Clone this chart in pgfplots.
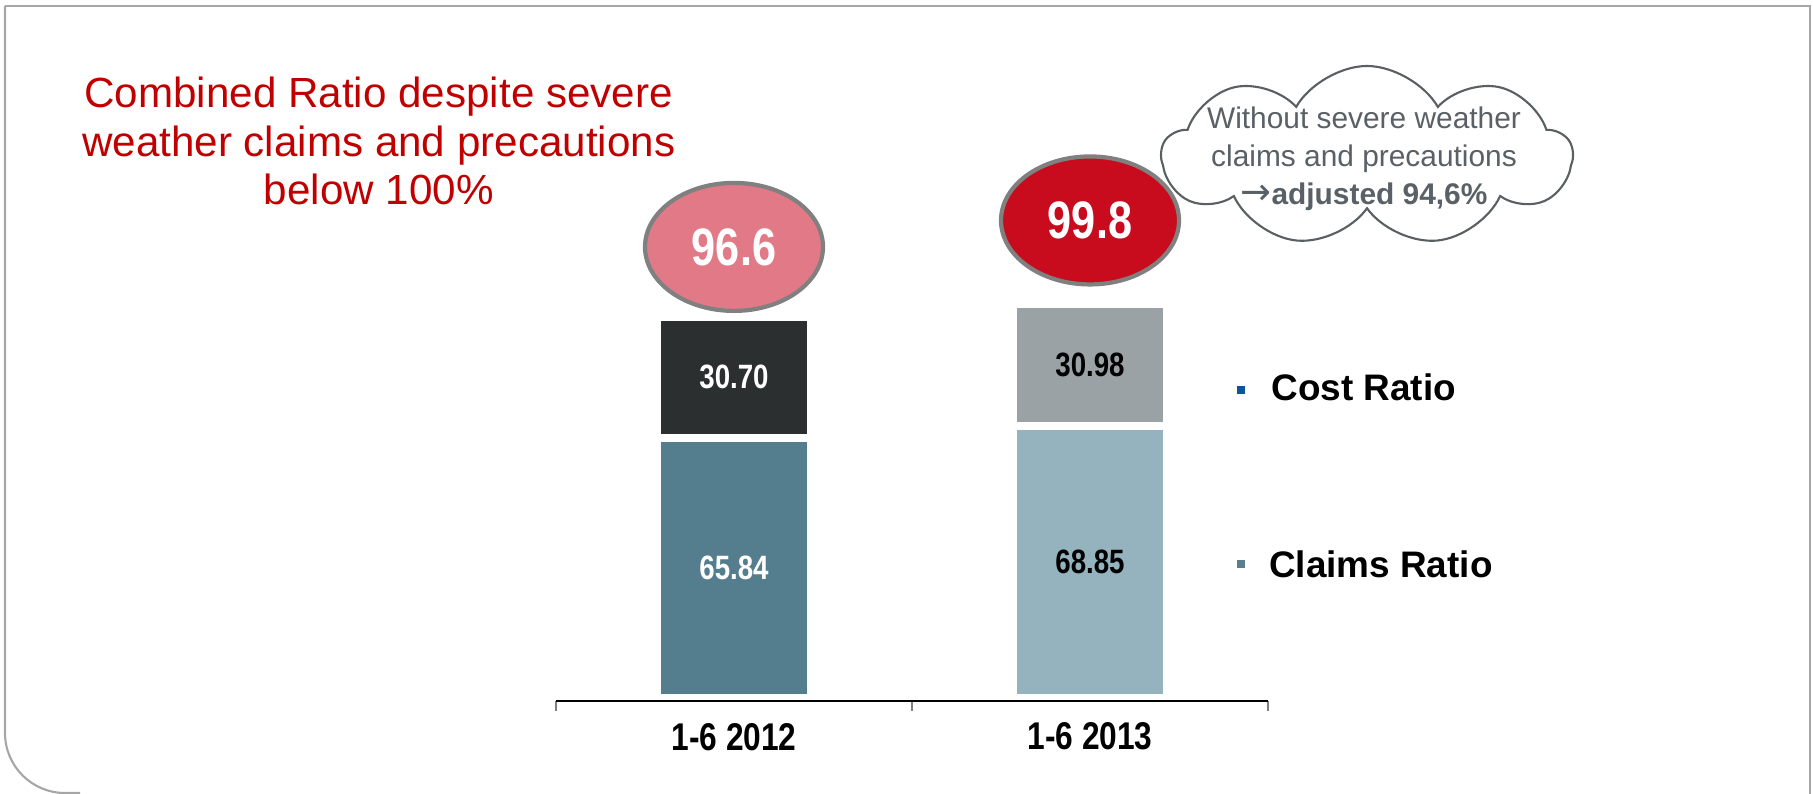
\documentclass[border=0pt]{standalone}
\usepackage{fontspec}
\setmainfont{Liberation Sans}
\newfontfamily\narrow[FakeStretch=0.82]{Liberation Sans}
\newfontfamily\sym{DejaVu Sans}
\usepackage{pgfplots}
\pgfplotsset{compat=1.18}
\usetikzlibrary{shapes.geometric,shapes.symbols}
\definecolor{titlered}{HTML}{C00000}
\definecolor{framegray}{HTML}{A6A6A6}
\definecolor{pinkfill}{HTML}{E17A86}
\definecolor{redfill}{HTML}{C80C1E}
\definecolor{ringgray}{HTML}{808080}
\definecolor{cloudgray}{HTML}{5A5F62}
\definecolor{cloudtext}{HTML}{5A6166}
\definecolor{claimsA}{HTML}{547E8E}
\definecolor{costA}{HTML}{2B2F30}
\definecolor{claimsB}{HTML}{95B3BF}
\definecolor{costB}{HTML}{9AA2A5}
\definecolor{costblue}{HTML}{0B55A0}
\definecolor{claimsmark}{HTML}{5B7F8F}
\begin{document}
\begin{tikzpicture}
\path[use as bounding box] (0,0) rectangle (18.13,7.94);
% slide frame
\draw[framegray, line width=0.6pt, rounded corners=0.6cm] (0.8,0.01) -- (0.05,0.01) -- (0.05,7.88);
\draw[framegray, line width=0.6pt] (0.05,7.88) -- (18.10,7.88) -- (18.10,0);
% title
\node[text=titlered, align=center, font=\fontsize{12}{13.8}\selectfont] at (3.787,6.53)
  {Combined Ratio despite severe\\weather claims and precautions\\below 100\%};
% cloud
\node[cloud, cloud puffs=9, cloud puff arc=120, aspect=2.3, draw=cloudgray, line width=0.6pt,
  fill=white, minimum width=4.1cm, minimum height=1.8cm, inner sep=0] at (13.67,6.38) {};
\node[text=cloudtext, align=center, font=\fontsize{8.5}{10.8}\selectfont] at (13.64,6.35)
  {Without severe weather\\claims and precautions\\{\sym\fontsize{10.5}{10.8}\selectfont →}\textbf{adjusted 94,6\%}};
\begin{axis}[
  at={(5.56cm,0.933cm)}, anchor=south west,
  scale only axis, width=7.12cm, height=3.977cm,
  xmin=-0.5, xmax=1.5, ymin=-0.68, ymax=100,
  axis on top,
  axis x line=bottom, axis y line=none,
  axis line style={-, black, line width=0.6pt},
  xtick={0,1}, xticklabels={1-6 2012, 1-6 2013},
  major tick length=0pt,
  minor xtick={-0.5,0.5,1.5}, minor tick length=0.1cm,
  tick align=outside, minor tick style={gray, line width=0.5pt},
  xticklabel style={anchor=center, yshift=-0.36cm, font=\narrow\bfseries\fontsize{11}{13}\selectfont},
  ybar stacked, bar width=1.54cm,
  clip=false,
]
\addplot[fill=claimsA, draw=white, line width=0.08cm] coordinates {(0,65.84) (1,0)};
\addplot[fill=claimsB, draw=white, line width=0.08cm] coordinates {(0,0) (1,68.85)};
\addplot[fill=costA, draw=white, line width=0.08cm] coordinates {(0,30.70) (1,0)};
\addplot[fill=costB, draw=white, line width=0.08cm] coordinates {(0,0) (1,30.98)};
% label anchors (segment midpoints)
\coordinate (l1) at (axis cs:0,81.19);
\coordinate (l2) at (axis cs:0,32.92);
\coordinate (l3) at (axis cs:1,84.34);
\coordinate (l4) at (axis cs:1,34.43);
\coordinate (e1) at (axis cs:0,114.2);
\coordinate (e2) at (axis cs:1,120.9);
\end{axis}
% value labels
\node[text=white, font=\narrow\bfseries\fontsize{9.6}{11}\selectfont] at (l1) {30.70};
\node[text=white, font=\narrow\bfseries\fontsize{9.6}{11}\selectfont] at (l2) {65.84};
\node[text=black, font=\narrow\bfseries\fontsize{9.6}{11}\selectfont] at (l3) {30.98};
\node[text=black, font=\narrow\bfseries\fontsize{9.6}{11}\selectfont] at (l4) {68.85};
% combined ratio ellipses
\node[ellipse, draw=ringgray, line width=1.2pt, fill=pinkfill, minimum width=1.78cm, minimum height=1.28cm,
  inner sep=0, text=white, font=\narrow\bfseries\fontsize{15}{16}\selectfont] at (e1) {96.6};
\node[ellipse, draw=ringgray, line width=1.2pt, fill=redfill, minimum width=1.78cm, minimum height=1.28cm,
  inner sep=0, text=white, font=\narrow\bfseries\fontsize{15}{16}\selectfont] at (e2) {99.8};
% legend
\fill[costblue] (12.365,4.003) rectangle ++(0.08,0.08);
\node[anchor=west, inner sep=0, font=\bfseries\fontsize{10.5}{12}\selectfont] at (12.707,4.07) {Cost Ratio};
\fill[claimsmark] (12.365,2.257) rectangle ++(0.08,0.08);
\node[anchor=west, inner sep=0, font=\bfseries\fontsize{10.5}{12}\selectfont] at (12.684,2.30) {Claims Ratio};
\end{tikzpicture}
\end{document}
